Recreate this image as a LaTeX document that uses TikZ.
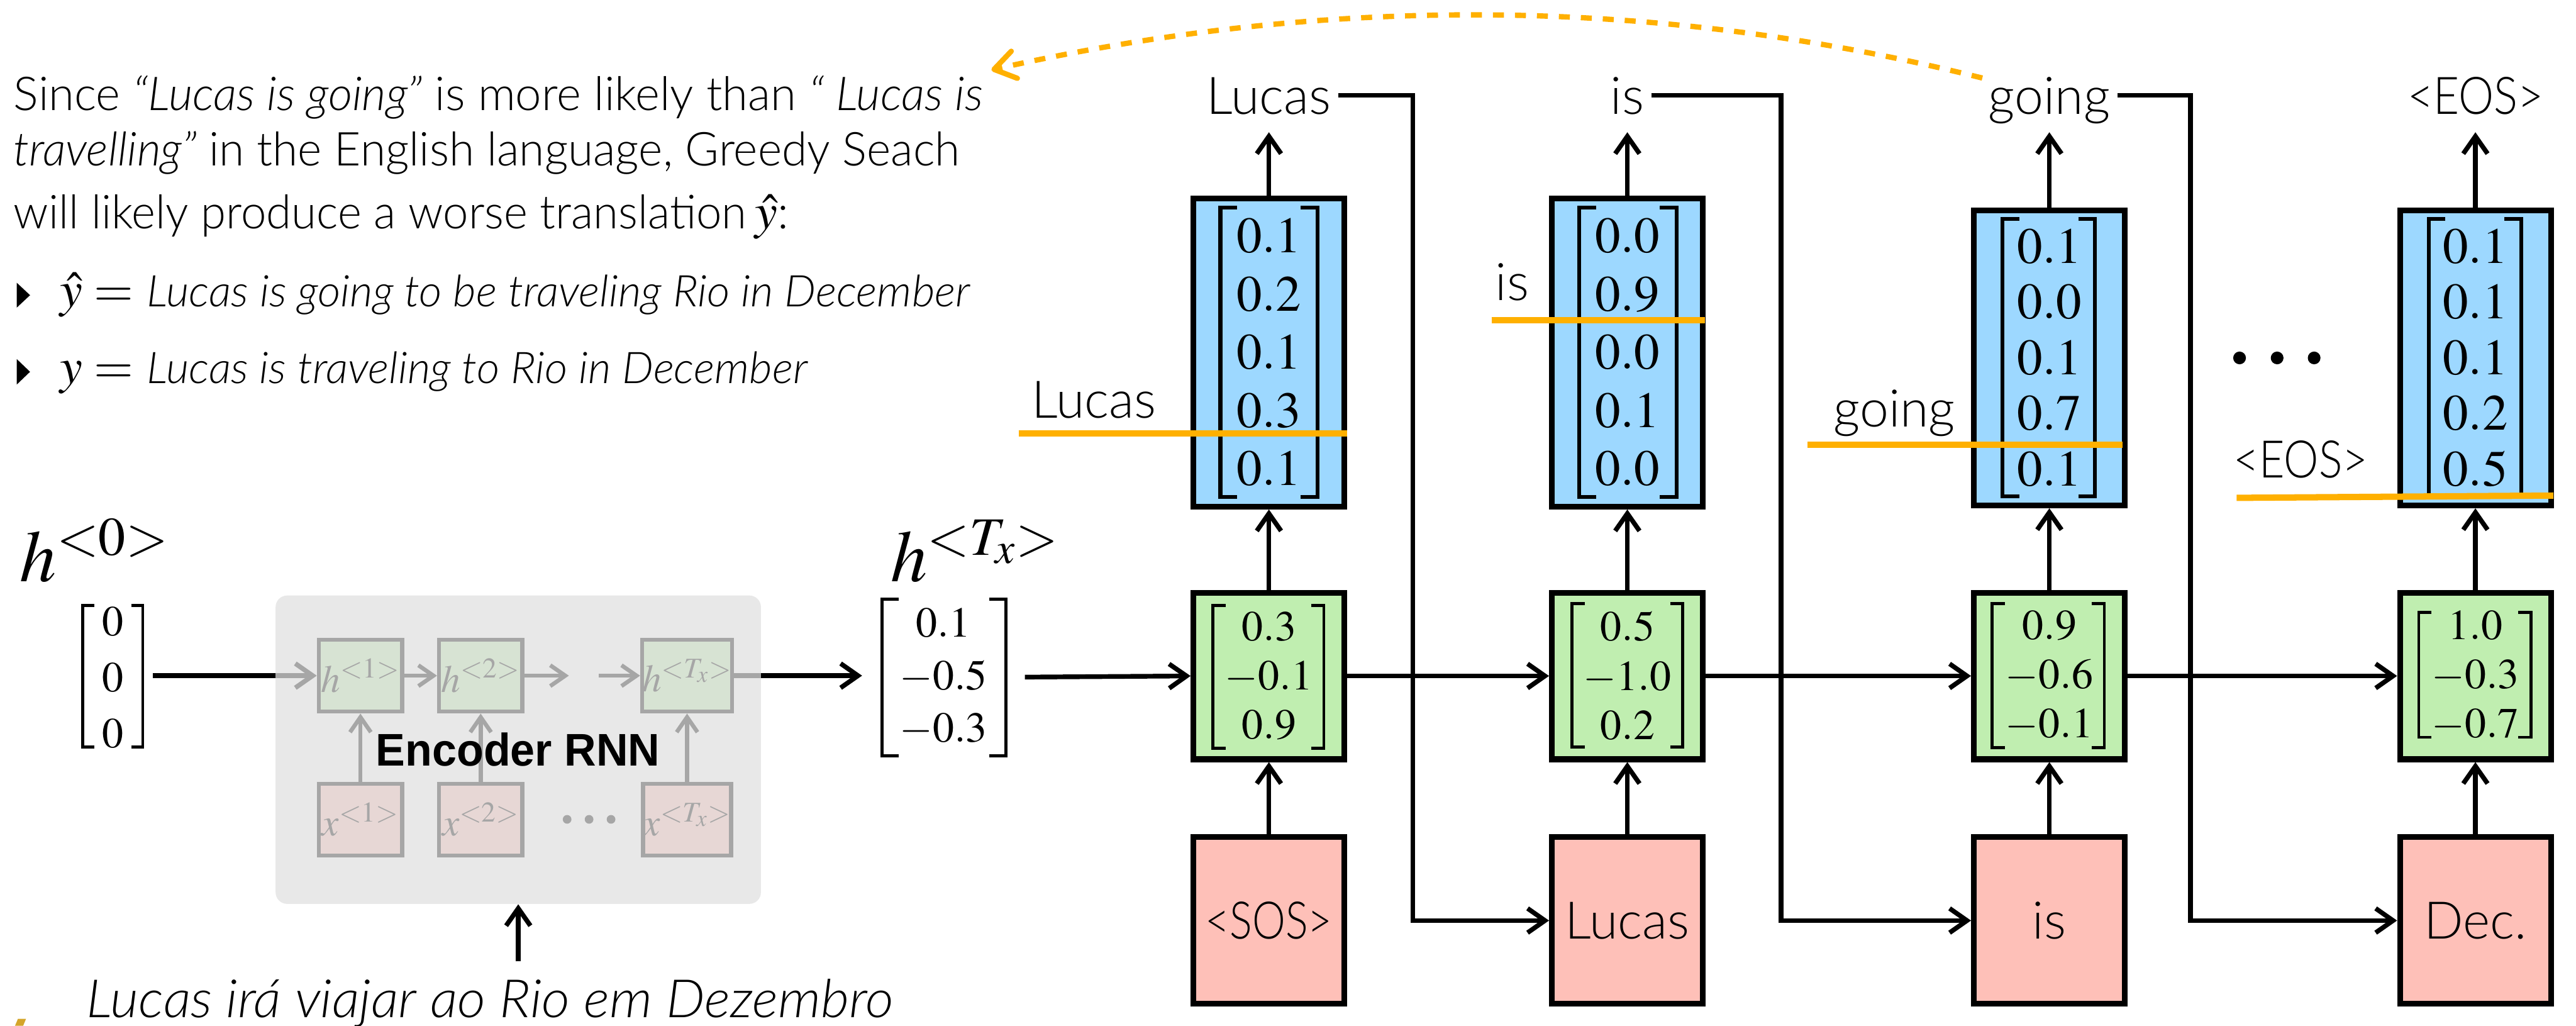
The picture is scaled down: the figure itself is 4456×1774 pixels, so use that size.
\documentclass[tikz,border=0pt]{standalone}
\usepackage{amsmath}
\usepackage{mathptmx}
\usepackage[no-math]{fontspec}
\usepackage{graphicx}
\setmainfont{Liberation Serif}
\newfontfamily\lightsf{Lato Light}
\newfontfamily\arialsf{Liberation Sans}
\usetikzlibrary{arrows.meta}
\definecolor{cblue}{HTML}{9DD8FF}
\definecolor{cgreen}{HTML}{C0EEB0}
\definecolor{cred}{HTML}{FEC0B8}
\definecolor{corange}{HTML}{FFB000}
\definecolor{cencgrey}{HTML}{E0E0E0}
\definecolor{cgold}{HTML}{D4A52A}
\newcommand{\fitw}[2]{\resizebox{#1}{\height}{#2}}
\newcommand{\wordfont}{\lightsf\fontsize{25.5}{30}\selectfont}
\newcommand{\txtfont}{\lightsf\fontsize{23}{27}\selectfont}
% bracket pair: centre x, centre y, half width, half height, serif length, line width
\newcommand{\brk}[6]{%
  \draw[line width=#6, line cap=butt] ({#1-#3+#5},{#2-#4}) -| ({#1-#3},{#2+#4}) -- ++(#5,0);
  \draw[line width=#6, line cap=butt] ({#1+#3-#5},{#2-#4}) -| ({#1+#3},{#2+#4}) -- ++(-#5,0);}
\begin{document}
\begin{tikzpicture}[x=0.01cm, y=-0.01cm,
  conn/.style={line width=2.3pt, -{Straight Barb[length=0.3cm, width=0.42cm]}},
  encconn/.style={line width=2pt, -{Straight Barb[length=0.26cm, width=0.36cm]}},
  cell/.style={draw, line width=2.8pt, inner sep=0pt, minimum width=2.61cm, align=center},
  bluebox/.style={cell, fill=cblue, minimum height=5.33cm, font=\fontsize{25}{28.6}\selectfont},
  blueboxb/.style={cell, fill=cblue, minimum height=5.10cm, font=\fontsize{25}{27.4}\selectfont},
  greenbox/.style={cell, fill=cgreen, minimum height=2.88cm, font=\fontsize{21}{24.2}\selectfont},
  redbox/.style={cell, fill=cred, minimum height=2.88cm, font=\wordfont},
  word/.style={font=\wordfont, text height=0.86cm, text depth=0.2cm, inner ysep=0.1cm},
  thrlabel/.style={font=\wordfont, inner sep=0pt, anchor=base},
  thr/.style={draw=corange, line width=3.1pt},
  encbox/.style={draw, line width=2pt, inner sep=0pt, minimum width=1.44cm, minimum height=1.24cm, font=\fontsize{19}{22}\selectfont},
  vec/.style={inner sep=0pt, align=center},
  txt/.style={anchor=base west, inner sep=0pt, font=\fontsize{25}{30}\selectfont}
]
\useasboundingbox (0,0) rectangle (4456,1774);
\fill[white] (0,0) rectangle (4456,1774);

% ---------------- left explanatory text ----------------
\node[txt] (t1) at (23,191) {\txtfont\fitw{16.76cm}{Since \textit{“Lucas is going”} is more likely than \textit{“ Lucas is}}};
\node[txt] (t2) at (23,287) {\txtfont\fitw{16.36cm}{\textit{travelling”} in the English language, Greedy Seach}};
\node[txt] (t3) at (23,396) {{\txtfont\fitw{12.67cm}{will likely produce a worse translation}}\,$\hat{y}${\txtfont:}};
\fill (29,489) -- (52,510.5) -- (29,532) -- cycle;
\fill (29,621) -- (52,643) -- (29,665) -- cycle;
\node[txt] (bl1) at (103,530) {$\hat{y} =$};
\node[txt] (bt1) at (253,530) {\lightsf\itshape\fontsize{21.5}{25}\selectfont\fitw{14.23cm}{Lucas is going to be traveling Rio in December}};
\node[txt] (bl2) at (103,663) {$y =$};
\node[txt] (bt2) at (253,663) {\lightsf\itshape\fontsize{21.5}{25}\selectfont\fitw{11.42cm}{Lucas is traveling to Rio in December}};

% ---------------- encoder ----------------
\node[anchor=base west, inner sep=0pt, font=\fontsize{36}{42}\selectfont] (h0l) at (34,1006) {$h^{<0>}$};
\node[vec, minimum width=1.38cm, font=\fontsize{21}{27.5}\selectfont] (h0v) at (195,1172) {$0$\\$0$\\$0$};
\brk{195}{1169.5}{52}{122.5}{20}{1.5pt}

\node[encbox, fill=cgreen] (h1) at (623.5,1168.5) {$h^{<1>}$};
\node[encbox, fill=cgreen] (h2) at (831.5,1168.5) {$h^{<2>}$};
\node[encbox, fill=cgreen] (hT) at (1188.5,1168.5) {$h^{<T_x>}$};
\node[encbox, fill=cred] (x1) at (623.5,1417.5) {$x^{<1>}$};
\node[encbox, fill=cred] (x2) at (831.5,1417.5) {$x^{<2>}$};
\node[encbox, fill=cred] (xT) at (1188.5,1417.5) {$x^{<T_x>}$};
\coordinate (hd1) at (984,1168.5);
\coordinate (hd2) at (1036,1168.5);
\draw[encconn] (h1) -- (h2);
\draw[encconn] (h2.east) -- (hd1);
\draw[encconn] (hd2) -- (hT.west);
\draw[encconn] (x1) -- (h1);
\draw[encconn] (x2) -- (h2);
\draw[encconn] (xT) -- (hT);
\fill (981,1417) circle[radius=0.075cm];
\fill (1019,1417) circle[radius=0.075cm];
\fill (1057,1417) circle[radius=0.075cm];

\node[anchor=base west, inner sep=0pt, font=\fontsize{36}{42}\selectfont] (hTl) at (1540,1006) {$h^{<T_x>}$};
\node[vec, minimum width=2.8cm, font=\fontsize{21}{25.8}\selectfont] (tv) at (1632,1171) {$0.1$\\$-0.5$\\$-0.3$};
\brk{1633}{1171.5}{107}{135.5}{29}{1.5pt}

\draw[conn] (h0v.east |- h1.west) -- (h1.west);
\draw[conn] (hT.east) -- (tv.west |- hT.east);

\node[fill=cencgrey, fill opacity=0.74, rounded corners=0.2cm, minimum width=8.39cm, minimum height=5.33cm, inner sep=0pt] (enc) at (896.5,1296.5) {};
\node[anchor=base, inner sep=0pt, font=\arialsf\bfseries\fontsize{22.5}{26}\selectfont] (enct) at (896,1324) {\fitw{4.91cm}{Encoder RNN}};

\node[anchor=base west, inner xsep=0pt, inner ysep=0.3cm, font=\lightsf\itshape\fontsize{26}{30}\selectfont] (inp) at (149,1760) {\fitw{13.95cm}{Lucas irá viajar ao Rio em Dezembro}};
\draw[conn] (inp.north -| enc.south) -- (enc.south);
\fill[cgold] (26,1774) -- (31,1762) -- (45,1762) -- (40,1774) -- cycle;

% ---------------- decoder ----------------
\node[bluebox] (b1) at (2195,609.5) {$0.1$\\$0.2$\\$0.1$\\$0.3$\\$0.1$};
\node[bluebox] (b2) at (2815,609.5) {$0.0$\\$0.9$\\$0.0$\\$0.1$\\$0.0$};
\node[blueboxb] (b3) at (3545,619) {$0.1$\\$0.0$\\$0.1$\\$0.7$\\$0.1$};
\node[blueboxb] (b4) at (4282,619) {$0.1$\\$0.1$\\$0.1$\\$0.2$\\$0.5$};

\node[greenbox] (g1) at (2195,1169) {$0.3$\\$-0.1$\\$0.9$};
\node[greenbox] (g2) at (2815,1169) {$0.5$\\$-1.0$\\$0.2$};
\node[greenbox] (g3) at (3545,1169) {$0.9$\\$-0.6$\\$-0.1$};
\node[greenbox] (g4) at (4282,1169) {$1.0$\\$-0.3$\\$-0.7$};

\brk{2195}{609}{84}{250}{29}{1.9pt}
\brk{2816}{609}{84}{250}{29}{1.9pt}
\brk{3544}{618.5}{80}{240}{29}{1.9pt}
\brk{4281}{618.5}{80}{240}{29}{1.9pt}
\brk{2194}{1170.5}{96}{123.5}{22}{1.5pt}
\brk{2815}{1168}{96}{124}{22}{1.5pt}
\brk{3543}{1168.5}{97}{124.5}{22}{1.5pt}
\brk{4281}{1167}{97}{108}{22}{1.5pt}

\node[redbox] (r1) at (2195,1592) {\fitw{2.19cm}{<SOS>}};
\node[redbox] (r2) at (2815,1592) {Lucas};
\node[redbox] (r3) at (3545,1592) {is};
\node[redbox] (r4) at (4282,1592) {Dec.};

\node[word, anchor=base] (w1) at (2195,198) {Lucas};
\node[word, anchor=base] (w2) at (2815,198) {is};
\node[word, anchor=base] (w3) at (3545,198) {going};
\node[word, anchor=base] (w4) at (4282,198) {\fitw{2.35cm}{<EOS>}};

\draw[conn] (tv.east) -- (g1.west);
\draw[conn] (g1) -- (g2);
\draw[conn] (g2) -- (g3);
\draw[conn] (g3) -- (g4);
\foreach \i in {1,2,3,4}{
  \draw[conn] (r\i) -- (g\i);
  \draw[conn] (g\i) -- (b\i);
  \draw[conn] (b\i) -- (w\i);
}
\coordinate (f1) at (2444,0);
\coordinate (f2) at (3081,0);
\coordinate (f3) at (3789,0);
\draw[conn] (w1.east) -| (f1 |- r2.west) -- (r2.west);
\draw[conn] (w2.east) -| (f2 |- r3.west) -- (r3.west);
\draw[conn] (w3.east) -| (f3 |- r4.west) -- (r4.west);

% thresholds
\draw[thr] (1762,750) -- (2330,750);
\draw[thr] (2580,554) -- (2949,554);
\draw[thr] (3127,769) -- (3672,769);
\draw[thr] (3869,861) -- (4417,857);
\node[thrlabel] (l1) at (1892,723) {Lucas};
\node[thrlabel] (l2) at (2616,520) {is};
\node[thrlabel] (l3) at (3277,738) {going};
\node[thrlabel] (l4) at (3980,826) {\fitw{2.32cm}{<EOS>}};

\fill (3874,619) circle[radius=0.11cm];
\fill (3939,619) circle[radius=0.11cm];
\fill (4003,619) circle[radius=0.11cm];

% dashed arc
\coordinate (arcS) at (3429,135);
\coordinate (arcE) at (1715,121);
\draw[corange, line width=2.6pt, dash pattern=on 0.19cm off 0.19cm, -{Straight Barb[length=0.36cm, width=0.48cm, round]}] (arcS) .. controls (2859,-8) and (2285,-8) .. (arcE);
\end{tikzpicture}
\end{document}
